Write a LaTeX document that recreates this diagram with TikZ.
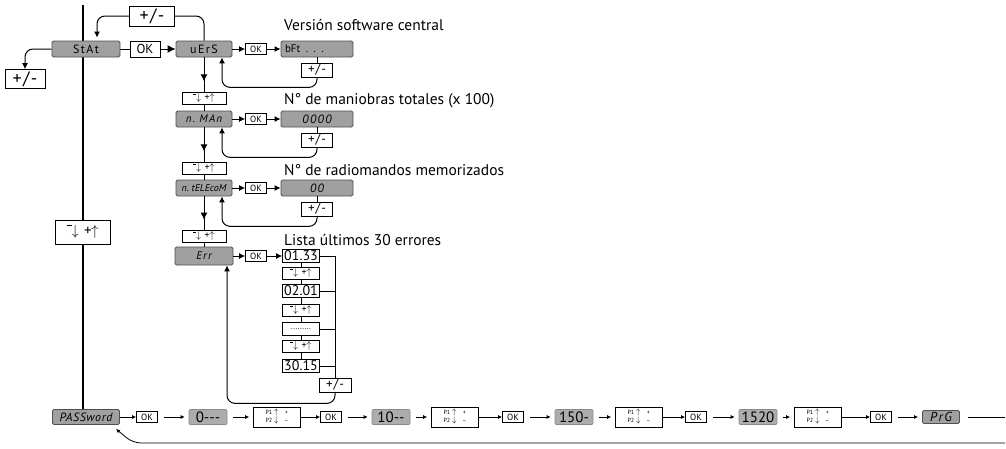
\documentclass[tikz,border=0pt]{standalone}
\usepackage{fontspec}
\setmainfont{PT Sans}
\usetikzlibrary{arrows.meta,decorations.markings}

\definecolor{lcd}{RGB}{160,160,160}
\definecolor{lcdedge}{RGB}{80,80,80}
\definecolor{lcdlight}{RGB}{172,172,172}

% key symbols
\newcommand{\updn}{\raisebox{.62em}{\rule{.3em}{.07em}}\kern-.02em$\downarrow$\hspace{.35em}+\kern-.02em$\uparrow$}
\newcommand{\pkeys}{%
  \begin{tabular}{@{}l@{\hspace{2pt}}c@{\hspace{6pt}}c@{}}
    P1 & {\fontsize{8}{8}\selectfont$\uparrow$} & + \\
    P2 & {\fontsize{8}{8}\selectfont$\downarrow$} & -- \\
  \end{tabular}}
\newcommand{\pmtxt}{+\kern.08em/\kern.08em-}
\newcommand{\seg}[1]{\addfontfeatures{LetterSpace=12}#1}

\tikzset{
  lcdbox/.style={draw=lcdedge, fill=lcd, line width=0.8pt, rounded corners=1.5pt,
    inner sep=0pt, minimum height=16pt, font=\fontsize{11}{11}\selectfont\itshape},
  pwbox/.style={draw=lcdlight!80!black, fill=lcdlight, line width=0.6pt, rounded corners=1pt,
    inner sep=0pt, minimum width=38pt, minimum height=15pt, font=\fontsize{15}{15}\selectfont},
  keybox/.style={draw, fill=white, line width=0.7pt, inner sep=0pt},
  okbig/.style={keybox, minimum width=30pt, minimum height=16pt, font=\fontsize{13}{13}\selectfont},
  oksmall/.style={keybox, minimum width=21pt, minimum height=11pt, font=\fontsize{9}{9}\selectfont},
  pmbox/.style={keybox, minimum width=31pt, minimum height=14pt, font=\fontsize{13}{13}\selectfont},
  udbox/.style={keybox, minimum width=44pt, minimum height=12pt, font=\fontsize{10}{10}\selectfont},
  errbox/.style={keybox, minimum width=37pt, minimum height=13pt, font=\fontsize{14}{14}\selectfont},
  pbox/.style={keybox, minimum width=47pt, minimum height=20pt, inner sep=1pt, font=\fontsize{6}{8}\selectfont},
  lbl/.style={anchor=west, inner sep=0pt, font=\fontsize{15.5}{15.5}\selectfont},
  wire/.style={line width=1pt},
  fwd/.style={wire, -{Latex[length=6pt,width=6pt]}},
  fat/.style={wire, -{Latex[length=8pt,width=8pt]}},
  thinarr/.style={line width=0.8pt, -{Latex[length=4pt,width=4pt]}},
  gap/.style={shorten <=6pt, shorten >=4pt},
  midarr/.style={postaction={decorate}, decoration={markings,
    mark=at position 0.7 with {\arrow{Latex[length=7pt,width=7pt]}}}},
}

\begin{document}
\begin{tikzpicture}[x=1pt,y=-1pt]
\useasboundingbox (0,0) rectangle (1006,448);

% Main menu line
\coordinate (top) at (83,5);
\node[lcdbox, minimum width=67pt, minimum height=15pt, font=\fontsize{12}{12}\selectfont\itshape] (pw) at (86,417) {\addfontfeatures{LetterSpace=5}PASSword};
\draw[line width=2.2pt] (top) -- (top |- pw.north);
\node[udbox, minimum width=55pt, minimum height=24pt, font=\fontsize{15}{15}\selectfont] (udmain) at (83,232) {\updn};

% StAt entry
\node[lcdbox, minimum width=68pt, font=\fontsize{12}{12}\selectfont] (stat) at (86,49) {\seg{StAt}};
\node[okbig] (ok0) at (145,49) {OK};
\node[pmbox, minimum width=45pt, minimum height=20pt, font=\fontsize{18}{18}\selectfont] (pmtop) at (152,16) {\pmtxt};
\node[pmbox, minimum width=40pt, minimum height=19pt, font=\fontsize{18}{18}\selectfont] (pmleft) at (25,79) {\pmtxt};

% Software version
\node[lcdbox, minimum width=56pt, font=\fontsize{12}{12}\selectfont] (vers) at (204,49) {\seg{uErS}};
\node[oksmall] (ok1) at (256,49) {OK};
\node[lcdbox, minimum width=72pt, text width=64pt, align=left, font=\fontsize{11}{11}\selectfont] (bft) at (317,49) {bFt\enspace. . .};
\node[pmbox] (pm1) at (317,70) {\pmtxt};
\node[lbl] (t1) at (284,25) {Versión software central};
\node[udbox] (ud1) at (204,98) {\updn};

% Manoeuvres
\node[lcdbox, minimum width=56pt] (nman) at (204,119) {\seg{n.\ MAn}};
\node[oksmall] (ok2) at (256,119) {OK};
\node[lcdbox, minimum width=72pt, font=\fontsize{12}{12}\selectfont\itshape] (v2) at (317,119) {\seg{0000}};
\node[pmbox] (pm2) at (317,140) {\pmtxt};
\node[lbl] (t2) at (284,101) {N° de maniobras totales (x 100)};
\node[udbox] (ud2) at (204,168) {\updn};

% Remote controls
\node[lcdbox, minimum width=56pt, font=\fontsize{10}{10}\selectfont\itshape] (ntel) at (204,188) {n.\ tELEcoM};
\node[oksmall] (ok3) at (256,188) {OK};
\node[lcdbox, minimum width=72pt, font=\fontsize{12}{12}\selectfont\itshape] (v3) at (317,188) {\seg{00}};
\node[pmbox] (pm3) at (317,209) {\pmtxt};
\node[lbl] (t3) at (284,170) {N° de radiomandos memorizados};
\node[udbox] (ud3) at (204,236) {\updn};

% Error list
\node[lcdbox, minimum width=58pt, minimum height=18pt] (err) at (204,256) {\seg{Err}};
\node[oksmall] (ok4) at (256,256) {OK};
\node[lbl] (t4) at (284,240) {Lista últimos 30 errores};
\node[errbox] (e1) at (301,256) {01.33};
\node[udbox, minimum width=37pt] (ue1) at (301,273) {\updn};
\node[errbox] (e2) at (301,291) {02.01};
\node[udbox, minimum width=37pt] (ue2) at (301,310) {\updn};
\node[errbox] (e3) at (301,329) {\fontsize{8}{8}\selectfont.........};
\node[udbox, minimum width=37pt] (ue3) at (301,346) {\updn};
\node[errbox] (e4) at (301,366) {30.15};
\node[pmbox, minimum width=32pt] (pmE) at (335,385) {\pmtxt};

% Password sequence
\foreach \i/\x in {0/147,1/331,2/513,3/696,4/881}
  \node[oksmall] (okp\i) at (\x,417) {OK};
\foreach \i/\x in {1/277,2/455,3/639,4/818}
  \node[pbox] (pp\i) at (\x,417) {\pkeys};
\node[pwbox] (d0) at (208,417) {0-{}-{}-};
\node[pwbox] (d10) at (391,417) {10-{}-};
\node[pwbox] (d150) at (574,417) {150-};
\node[pwbox] (d1520) at (758,417) {1520};
\node[lcdbox, minimum width=37pt, minimum height=13pt, font=\fontsize{13}{13}\selectfont\itshape] (prg) at (941,417) {\seg{PrG}};
\coordinate (prgout) at (1005,417);
\coordinate (backR) at (1005,443);
\coordinate (backL) at (133,443);
\coordinate (pwin) at (116,429);

% Connectors: top
\draw[wire] (stat) -- (ok0);
\draw[fat] (ok0) -- (vers);
\draw[fwd, rounded corners=8pt] (stat.west) -| (pmleft.north);
\draw[fwd, rounded corners=8pt] (pmtop.west) -| ([xshift=11pt,yshift=3pt]stat.north);
\draw[wire, rounded corners=8pt] (pmtop.east) -| (vers.north);

% Connectors: sub menus
\foreach \d/\k/\v/\p in {vers/ok1/bft/pm1, nman/ok2/v2/pm2, ntel/ok3/v3/pm3} {
  \draw[fwd] (\d) -- (\k);
  \draw[fwd] (\k) -- (\v);
  \draw[wire] (\v) -- (\p);
  \draw[fwd, rounded corners=8pt] (\p.south) -- ++(0,10) -| ([xshift=18pt]\d.south);
}
\foreach \d/\u/\n in {vers/ud1/nman, nman/ud2/ntel, ntel/ud3/err} {
  \draw[wire, midarr] (\d) -- (\u);
  \draw[wire] (\u) -- (\n);
}

% Connectors: errors
\draw[fwd] (err) -- (ok4);
\draw[fwd] (ok4) -- (e1);
\draw[wire] (e1) -- (ue1) -- (e2) -- (ue2) -- (e3) -- (ue3) -- (e4);
\draw[wire] (e1) -- (e1 -| pmE) -- (pmE);
\foreach \e in {e2,e3,e4}
  \draw[wire] (\e) -- (\e -| pmE);
\draw[fwd, rounded corners=8pt] (pmE.south) -- ++(0,11) -| ([xshift=23pt]err.south);

% Connectors: password
\foreach \a/\b in {pw/okp0, pp1/okp1, pp2/okp2, pp3/okp3, pp4/okp4}
  \draw[thinarr] (\a) -- (\b);
\foreach \a/\b in {okp0/d0, d0/pp1, okp1/d10, d10/pp2, okp2/d150, d150/pp3, okp3/d1520, d1520/pp4, okp4/prg}
  \draw[thinarr, gap] (\a) -- (\b);
\draw[wire, shorten <=8pt] (prg) -- (prgout);
\draw[thinarr, rounded corners=8pt] (backR) -- (backL) -- (pwin);
\end{tikzpicture}
\end{document}
